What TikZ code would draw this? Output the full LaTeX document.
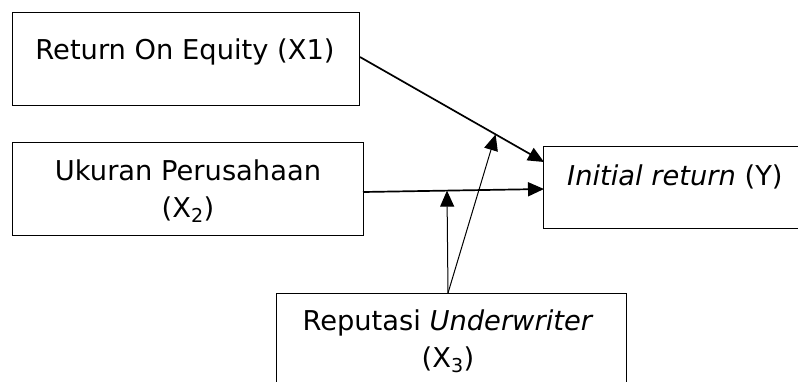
\documentclass[tikz,border=0pt]{standalone}
\usepackage{fontspec}
\setmainfont{DejaVu Sans}
\usetikzlibrary{arrows.meta}
\tikzset{
  box/.style={draw, line width=1pt, rectangle, inner sep=0pt, anchor=north west},
  lbl/.style={inner sep=0pt, align=center, font=\fontsize{27.3}{37}\selectfont},
  arr/.style={line width=1.7pt, -{Triangle[length=16pt,width=14pt]}},
  tarr/.style={line width=1pt, -{Triangle[length=16pt,width=14pt]}}
}
\begin{document}
\begin{tikzpicture}[x=1pt,y=-1pt]
\useasboundingbox (0,0) rectangle (798,381);
\node[box, minimum width=347pt, minimum height=93pt] (x1) at (12,12) {};
\node[box, minimum width=351pt, minimum height=93pt] (x2) at (12,142) {};
\node[box, minimum width=262pt, minimum height=82pt] (y) at (543,146) {};
\node[box, minimum width=350pt, minimum height=100pt] (x3) at (276,293) {};
\node[lbl, anchor=base] (t1) at (185,59) {Return On Equity (X1)};
\node[lbl, anchor=base] (t2) at (188,217) {Ukuran Perusahaan\\(X\textsubscript{2})};
\node[lbl, anchor=base west] (ty) at (567,185) {\textit{Initial return} (Y)};
\node[lbl, anchor=base] (t3) at (448,367) {Reputasi \textit{Underwriter}\\(X\textsubscript{3})};
\coordinate (s1) at (360,57);
\coordinate (e1) at (544,162);
\coordinate (s2) at (363,192);
\coordinate (e2) at (544,189);
\coordinate (m) at (448,293);
\draw[arr] (s1) -- (e1);
\draw[arr] (s2) -- (e2);
\path (s1) -- coordinate[pos=0.737] (h1) (e1);
\path (s2) -- coordinate[pos=0.464] (h2) (e2);
\draw[tarr] (m) -- (h2);
\draw[tarr] (m) -- (h1);
\end{tikzpicture}
\end{document}
